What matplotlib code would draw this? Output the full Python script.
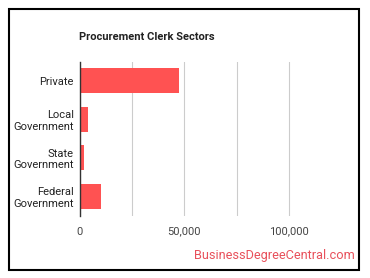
import matplotlib
matplotlib.use("Agg")
import matplotlib.pyplot as plt
from matplotlib.patches import Rectangle

categories = ["Private", "Local\nGovernment", "State\nGovernment", "Federal\nGovernment"]
values = [47500, 4000, 2200, 10300]
tick_values = [0, 25000, 50000, 75000, 100000]
tick_labels = ["0", "", "50,000", "", "100,000"]

plt.rcParams['font.family'] = ['Roboto', 'DejaVu Sans']

W, H = 370, 278
fig = plt.figure(figsize=(3.7, 2.78), dpi=100)
left, right = 79.5 / W, 341 / W
top, bottom = 1 - 61.5 / H, 1 - 215.5 / H
ax = fig.add_axes([left, bottom, right - left, top - bottom])

y = list(range(len(categories)))
ax.barh(y, values, height=0.65, color="#FF5252", zorder=3)
ax.set_ylim(len(categories) - 0.5, -0.5)
ax.set_xlim(0, 124750)
ax.set_yticks(y)
ax.set_yticklabels(categories, fontsize=8, color="#222222", linespacing=1.2)
ax.set_xticks(tick_values)
ax.set_xticklabels(tick_labels, fontsize=8, color="#444444")
ax.tick_params(axis="both", length=0, pad=4)
ax.tick_params(axis="x", pad=8)
ax.grid(axis="x", color="#cccccc", linewidth=0.8, zorder=0)
for s in ["top", "right", "bottom"]:
    ax.spines[s].set_visible(False)
ax.spines["left"].set_color("#333333")
ax.spines["left"].set_linewidth(1)
ax.spines["left"].set_zorder(4)

fig.text(79 / W, 1 - 37 / H, "Procurement Clerk Sectors", fontsize=8,
         fontweight="bold", color="#222222", va="center", ha="left")
fig.text(355 / W, 1 - 256 / H, "BusinessDegreeCentral.com", fontsize=9.2,
         color="#E8505B", va="center", ha="right")

fig.patches.append(Rectangle((8.5 / W, 1 - 269.5 / H), (359 - 8.5) / W, (269.5 - 8.5) / H,
                             transform=fig.transFigure, fill=False,
                             edgecolor="black", linewidth=1.5))

fig.savefig("out.png", dpi=100)
